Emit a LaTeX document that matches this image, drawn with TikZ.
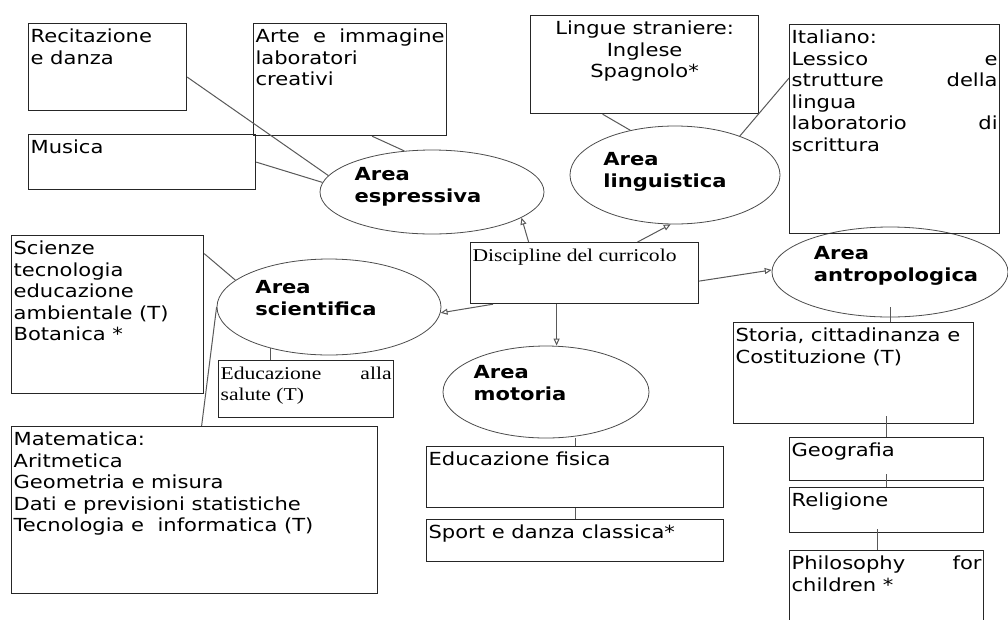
\documentclass[tikz,border=0pt]{standalone}
\usepackage{fontspec}
\setmainfont[FakeStretch=1.17]{DejaVu Sans}
\newfontfamily\timesfont[FakeStretch=1.2]{Liberation Serif}
\usetikzlibrary{shapes.geometric,arrows.meta}
\colorlet{boxColor}{black!85}
\colorlet{lineColor}{black!65}
\colorlet{areaColor}{black!70}
\tikzset{>={Triangle[open,length=7pt,width=6pt]}}
% testo in alto a sinistra nel riquadro (larghezza, altezza, testo)
\newcommand{\boxtext}[3]{\parbox[t][\dimexpr #2pt-8pt\relax][t]{\dimexpr #1pt-4pt\relax}{\raggedright\strut #3}}
\tikzset{
  box/.style={draw=boxColor, line width=1.2pt, anchor=north west, inner xsep=2pt, inner ysep=4pt, font=\fontsize{18}{21.5}\selectfont},
  timesbox/.style={box, font=\fontsize{18}{21}\selectfont\timesfont},
  area/.style={ellipse, draw=areaColor, line width=0.8pt, inner sep=0pt},
  areatext/.style={align=left, font=\fontsize{18}{22}\selectfont\bfseries},
  link/.style={draw=lineColor, line width=1pt},
  arrowlink/.style={link, ->}
}

\begin{document}
\begin{tikzpicture}[x=1pt,y=-1pt]
\fill[white] (0,0) rectangle (1008,619);
\useasboundingbox (0,0) rectangle (1008,619);

% aree
\node[area, minimum width=224pt, minimum height=84pt, label={[areatext,xshift=-14pt,yshift=5pt]center:Area\\espressiva}] (espr) at (432,192) {};
\node[area, minimum width=210pt, minimum height=98pt, label={[areatext,xshift=-10pt,yshift=3pt]center:Area\\linguistica}] (ling) at (675,175) {};
\node[area, minimum width=224pt, minimum height=96pt, label={[areatext,xshift=-13pt,yshift=9pt]center:Area\\scientifica}] (sci) at (329,307) {};
\node[area, minimum width=236pt, minimum height=90pt, label={[areatext,xshift=6pt,yshift=6pt]center:Area\\antropologica}] (antro) at (890,272) {};
\node[area, minimum width=206pt, minimum height=92pt, label={[areatext,xshift=-26pt,yshift=9pt]center:Area\\motoria}] (motoria) at (546,392) {};

% riquadri
\node[box] (recit) at (28,23) {\boxtext{158}{87}{Recitazione\\e danza}};
\node[box] (arte) at (253,23) {\boxtext{193}{112}{Arte\hfill e\hfill immagine\\laboratori\\creativi}};
\node[box] (musica) at (28,134) {\boxtext{227}{55}{Musica}};
\node[box] (lingue) at (530,15) {\boxtext{228}{98}{\centering Lingue straniere:\\Inglese\\Spagnolo*}};
\node[box] (ital) at (789,24) {\boxtext{210}{209}{Italiano:\\Lessico\hfill e\\strutture\hfill della\\lingua\\laboratorio\hfill di\\scrittura}};
\node[timesbox] (disc) at (470,242) {\boxtext{228}{61}{Discipline del curricolo}};
\node[box] (scienze) at (11,235) {\boxtext{192}{158}{Scienze\\tecnologia\\educazione\\ambientale (T)\\Botanica *}};
\node[timesbox] (salute) at (218,360) {\boxtext{175}{57}{Educazione\hfill alla\\salute (T)}};
\node[box] (mat) at (11,426) {\boxtext{366}{167}{Matematica:\\Aritmetica\\Geometria e misura\\Dati e previsioni statistiche\\Tecnologia e~ informatica (T)}};
\node[box] (fisica) at (426,446) {\boxtext{297}{61}{Educazione fisica}};
\node[box] (sport) at (426,519) {\boxtext{297}{42}{Sport e danza classica*}};
\node[box] (storia) at (733,322) {\boxtext{240}{101}{Storia, cittadinanza e\\Costituzione (T)}};
\node[box] (geo) at (789,437) {\boxtext{194}{43}{Geografia}};
\node[box] (relig) at (789,487) {\boxtext{194}{45}{Religione}};
\node[box] (philo) at (789,550) {\boxtext{194}{75}{Philosophy\hfill for\\children *}};

% collegamenti
\draw[link] ([yshift=-10pt]recit.east) -- (espr.171);
\draw[link] (musica.east) -- (espr.175);
\draw[link] ([xshift=22pt]arte.south) -- (espr.124);
\draw[link] ([xshift=-42pt]lingue.south) -- (ling.135);
\draw[link] ([yshift=51pt]ital.west) -- (ling.31);
\draw[arrowlink] ([xshift=-56pt]disc.north) -- (espr.-16);
\draw[arrowlink] ([xshift=53pt]disc.north) -- (ling.-95);
\draw[arrowlink] ([xshift=23pt]disc.south west) -- (sci.-3);
\draw[arrowlink] ([yshift=-8pt]disc.east) -- (antro.179);
\draw[arrowlink] ([xshift=-28pt]disc.south) coordinate (m) -- (m |- motoria.north);
\draw[link] ([yshift=61pt]scienze.east) -- (sci.164);
\draw[link] (sci.215) -- (sci.215 |- salute.north);
\draw[link] (sci.west) -- ([xshift=7pt]mat.north);
\draw[link] (motoria.south -| fisica.north) -- (fisica.north);
\draw[link] (fisica.south) -- (sport.north);
\draw[link] ([yshift=10pt]antro.south) -- (antro.south |- storia.north);
\draw[link] ([yshift=8pt]storia.south -| geo.north) -- (geo.north);
\draw[link] ([yshift=7pt]geo.south) -- (relig.north);
\draw[link] ([xshift=-9pt,yshift=4pt]relig.south) -- ([xshift=-9pt]philo.north);
\end{tikzpicture}
\end{document}
